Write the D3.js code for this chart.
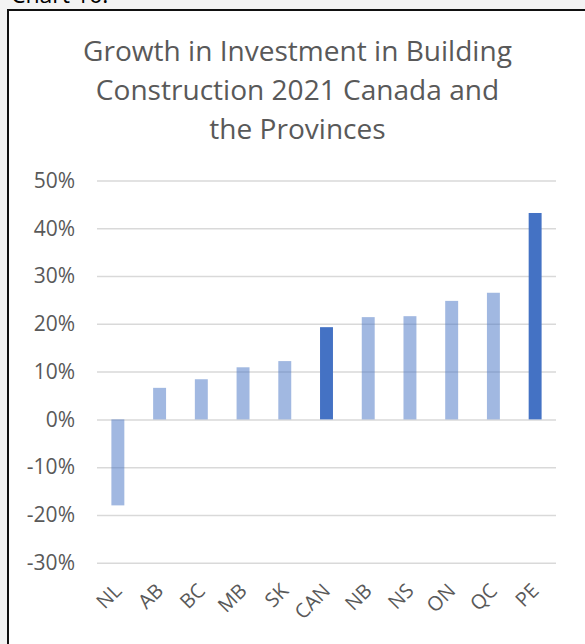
<!DOCTYPE html>
<html>
<head>
<meta charset="utf-8">
<script src="https://cdn.jsdelivr.net/npm/d3@7/dist/d3.min.js"></script>
<style>
  html, body { margin: 0; padding: 0; background: #f3f3f3; }
  svg { display: block; }
</style>
</head>
<body>
<svg id="chart" width="585" height="644"></svg>
<script>
// Year-over-year growth in investment in building construction, 2021
const provinces = ["NL", "AB", "BC", "MB", "SK", "CAN", "NB", "NS", "ON", "QC", "PE"];
const growth = [-18.0, 6.6, 8.4, 10.9, 12.2, 19.3, 21.4, 21.6, 24.8, 26.5, 43.2];
const highlighted = ["CAN", "PE"];
const yTicks = [-30, -20, -10, 0, 10, 20, 30, 40, 50];
const titleLines = ["Growth in Investment in Building", "Construction 2021 Canada and", "the Provinces"];

const FONT = "'Open Sans', 'Noto Sans', sans-serif";
const BLUE = "#4472C4";
const TEXT = "#595959";

const svg = d3.select("#chart");

// caption above the chart frame
svg.append("text")
  .attr("x", 11).attr("y", 3)
  .attr("font-family", FONT).attr("font-size", 23)
  .attr("fill", "#000")
  .text("Chart 16:");

// chart area with its frame
svg.append("rect")
  .attr("x", 8).attr("y", 10).attr("width", 600).attr("height", 700)
  .attr("fill", "#fff");
svg.append("line").attr("x1", 8).attr("x2", 600).attr("y1", 10).attr("y2", 10)
  .attr("stroke", "#111").attr("stroke-width", 2);
svg.append("line").attr("x1", 8).attr("x2", 8).attr("y1", 9).attr("y2", 660)
  .attr("stroke", "#111").attr("stroke-width", 2);

// title, sized so the widest line spans the intended width
const title = svg.append("text")
  .attr("font-family", FONT).attr("fill", TEXT)
  .attr("text-anchor", "middle").attr("font-size", 27);
title.selectAll("tspan").data(titleLines).join("tspan")
  .attr("x", 297.5).attr("y", (d, i) => 61 + i * 39)
  .text(d => d);
const firstLineWidth = title.select("tspan").node().getComputedTextLength();
title.attr("font-size", 27 * 429 / firstLineWidth);

const x = d3.scaleBand()
  .domain(provinces)
  .range([97, 556])
  .paddingInner(0.69)
  .paddingOuter(0.345);

const y = d3.scaleLinear()
  .domain([-30, 50])
  .range([562.7, 180.5]);

// horizontal gridlines with percentage labels
const yAxis = d3.axisLeft(y)
  .tickValues(yTicks)
  .tickSize(-(556 - 97))
  .tickPadding(22)
  .tickFormat(d => d + "%");

const gy = svg.append("g")
  .attr("transform", "translate(97,0)")
  .call(yAxis);
gy.select(".domain").remove();
gy.selectAll(".tick line")
  .attr("stroke", "#d9d9d9").attr("stroke-width", 1.5);
gy.selectAll(".tick text")
  .attr("font-family", FONT).attr("font-size", 21)
  .attr("fill", TEXT);

// bars: Canada and the top province in solid blue, the rest half-transparent
svg.append("g")
  .selectAll("rect")
  .data(provinces.map((p, i) => ({ p, v: growth[i] })))
  .join("rect")
  .attr("x", d => x(d.p))
  .attr("width", x.bandwidth())
  .attr("y", d => y(Math.max(0, d.v)))
  .attr("height", d => Math.abs(y(d.v) - y(0)))
  .attr("fill", BLUE)
  .attr("fill-opacity", d => highlighted.includes(d.p) ? 1 : 0.5);

// rotated category labels
const xAxis = d3.axisBottom(x).tickSize(0).tickPadding(0);
const gx = svg.append("g")
  .attr("transform", "translate(0,592)")
  .call(xAxis);
gx.select(".domain").remove();
gx.selectAll(".tick text")
  .attr("font-family", FONT).attr("font-size", 20)
  .attr("fill", TEXT)
  .attr("text-anchor", "end")
  .attr("y", 0)
  .attr("dy", 0)
  .attr("transform", "translate(5,0) rotate(-45)");
</script>
</body>
</html>
